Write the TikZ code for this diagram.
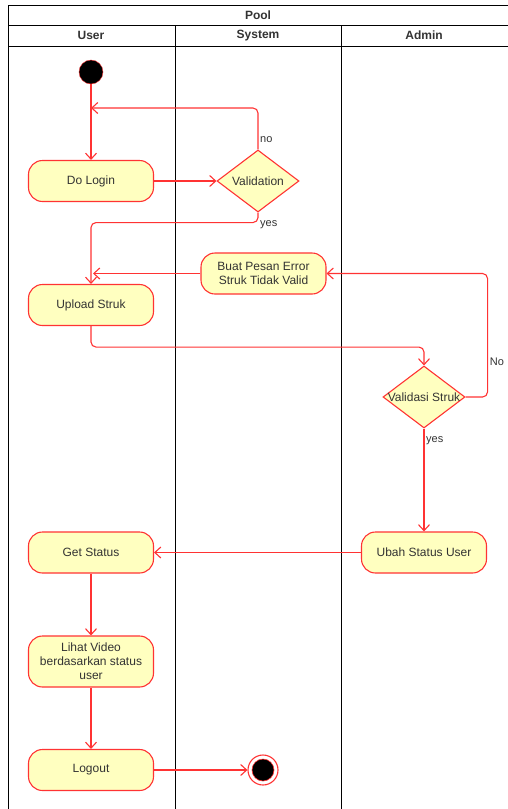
\documentclass[tikz,border=0pt]{standalone}
\usepackage{fontspec}
\setmainfont{Liberation Sans}
\usetikzlibrary{arrows.meta,shapes.geometric}
\definecolor{lnred}{RGB}{255,51,51}
\definecolor{actfill}{RGB}{255,255,192}
\definecolor{txt}{RGB}{51,51,51}
\begin{document}
\begin{tikzpicture}[x=1pt,y=-1pt,
 act/.style={draw=lnred,fill=actfill,rounded corners=14pt,minimum width=125pt,minimum height=41pt,text=txt,font=\fontsize{12}{14}\selectfont,align=center,line width=1.1pt,inner sep=2pt},
 dec/.style={diamond,draw=lnred,fill=actfill,minimum width=82pt,minimum height=62pt,inner sep=0pt,line width=1.1pt},
 dectext/.style={text=txt,font=\fontsize{12}{14}\selectfont},
 flow/.style={draw=lnred,line width=1.1pt,-{Straight Barb[length=6pt,width=11pt]},rounded corners=5pt},
 lbl/.style={text=txt,font=\fontsize{11}{13}\selectfont,inner sep=1pt},
 hdr/.style={font=\bfseries\fontsize{12}{14}\selectfont,text=txt},
 lane/.style={draw=black,line width=1pt}
]
\useasboundingbox (0,0) rectangle (508,809);
\fill[white] (0,0) rectangle (508,809);
% frame
\draw[lane] (508,5) -- (8,5) -- (8,809);
\draw[lane] (8,25) -- (508,25);
\draw[lane] (8,46) -- (508,46);
\draw[lane] (175,25) -- (175,809);
\draw[lane] (341,25) -- (341,809);
\node[hdr] (pool) at (258,15) {Pool};
\node[hdr] (huser) at (91,35.5) {User};
\node[hdr] (hsys) at (258,35.5) {System};
\node[hdr] (hadm) at (424,35.5) {Admin};
% nodes
\node[circle,fill=black,draw=lnred,minimum size=24pt,inner sep=0pt] (start) at (91,72) {};
\node[act] (login) at (91,181) {Do Login};
\node[dec] (valid) at (258,181) {};
\node[dectext] (validt) at (valid.center) {Validation};
\node[act] (error) at (263.5,273.5) {Buat Pesan Error\\Struk Tidak Valid};
\node[act] (upload) at (91,305) {Upload Struk};
\node[dec] (vstruk) at (424,397) {};
\node[dectext] (vstrukt) at (vstruk.center) {Validasi Struk};
\node[act] (ubah) at (424,552.5) {Ubah Status User};
\node[act] (getst) at (91,552.5) {Get Status};
\node[act,minimum height=51pt] (lihat) at (91,661.5) {Lihat Video\\berdasarkan status\\user};
\node[act] (logout) at (91,770) {Logout};
\node[circle,draw=lnred,fill=white,minimum size=30pt,inner sep=0pt,line width=1.1pt] (end) at (263,770) {};
\node[circle,fill=black,draw=lnred,minimum size=22pt,inner sep=0pt,line width=0.6pt] (endin) at (end.center) {};
% connectors
\coordinate (join1) at (91,108);
\coordinate (join2) at (93,273.5);
\draw[flow] (start) -- (login);
\draw[flow] (valid.north) |- (join1);
\node[lbl,anchor=west] (lno) at (259,140) {no};
\draw[flow] (login) -- (valid);
\draw[flow] (valid.south) -- ++(0,10) -| (upload.north);
\node[lbl,anchor=west] (lyes) at (259,225) {yes};
\draw[flow] (error.west) -- (join2);
\draw[flow] (upload.south) -- ++(0,21) -| (vstruk.north);
\draw[flow] (vstruk.east) -- ++(22,0) |- (error.east);
\node[lbl] (lNo) at (497,362) {No};
\draw[flow] (vstruk.south) -- (ubah.north);
\node[lbl,anchor=west] (lyes2) at (425,441) {yes};
\draw[flow] (ubah) -- (getst);
\draw[flow] (getst) -- (lihat);
\draw[flow] (lihat) -- (logout);
\draw[flow] (logout) -- (end);
\end{tikzpicture}
\end{document}
